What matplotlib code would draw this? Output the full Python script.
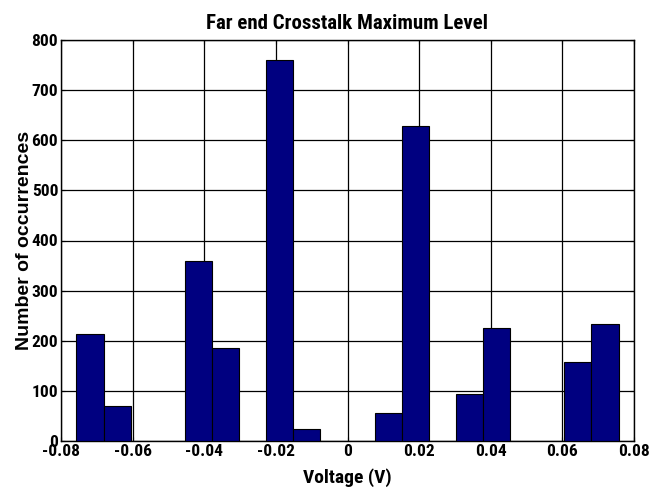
import numpy as np
import matplotlib
matplotlib.use("Agg")
import matplotlib.pyplot as plt

# histogram of far-end crosstalk peaks, 20 bins
bin_lo = -0.0757
bin_hi = 0.0757
counts = [213, 70, 0, 0, 360, 185, 0, 761, 24, 0,
          0, 56, 628, 0, 94, 226, 0, 0, 157, 233]
xticks = [-0.08, -0.06, -0.04, -0.02, 0, 0.02, 0.04, 0.06, 0.08]
xticklabels = ['-0.08', '-0.06', '-0.04', '-0.02', '0', '0.02', '0.04', '0.06', '0.08']
yticks = [0, 100, 200, 300, 400, 500, 600, 700, 800]

plt.rcParams['font.family'] = ['Roboto Condensed', 'Liberation Sans', 'DejaVu Sans']
plt.rcParams['font.weight'] = 'bold'

edges = np.linspace(bin_lo, bin_hi, len(counts) + 1)

fig = plt.figure(figsize=(6.51, 4.95), dpi=100)
ax = fig.add_axes([61 / 651, 54 / 495, 573 / 651, 401 / 495])

ax.bar(edges[:-1], counts, width=edges[1] - edges[0], align='edge',
       color='#000080', edgecolor='black', linewidth=0.8, zorder=3)

ax.set_xlim(-0.08, 0.08)
ax.set_ylim(0, 800)
ax.set_xticks(xticks)
ax.set_xticklabels(xticklabels)
ax.set_yticks(yticks)
ax.grid(True, color='black', linewidth=0.9, zorder=0)
ax.set_axisbelow(True)
ax.tick_params(direction='in', top=True, right=True, labelsize=12.5, length=3, pad=2)
for lab in ax.get_xticklabels() + ax.get_yticklabels():
    lab.set_fontweight('bold')
for s in ax.spines.values():
    s.set_linewidth(1.0)

ax.set_title('Far end Crosstalk Maximum Level', fontsize=15, fontweight='bold', pad=8)
ax.set_xlabel('Voltage (V)', fontsize=14, fontweight='bold', labelpad=7)
ax.set_ylabel('Number of occurrences', fontsize=14, fontweight='bold', labelpad=-1,
              family=['Liberation Sans', 'DejaVu Sans'])

fig.savefig('out.png', dpi=100)
